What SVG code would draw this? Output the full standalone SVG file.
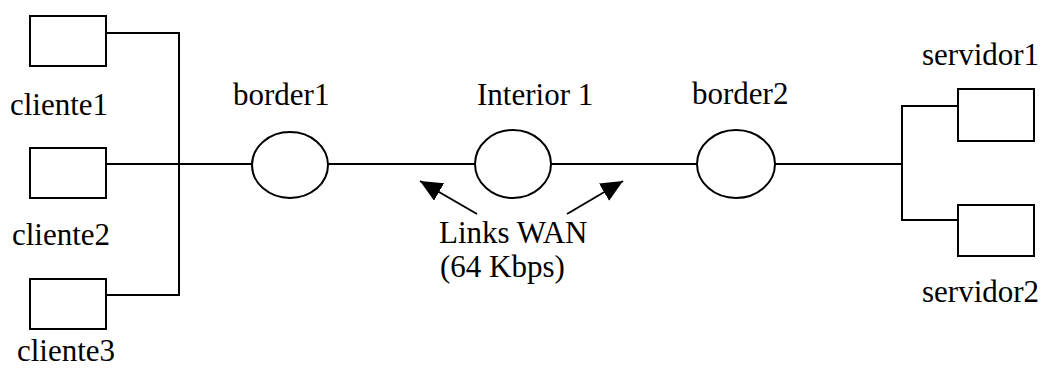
<svg xmlns="http://www.w3.org/2000/svg" width="1042" height="369" viewBox="0 0 1042 369">
<style>
.box{fill:#fff;stroke:#000;stroke-width:2}
.rt{fill:#fff;stroke:#000;stroke-width:2}
.ln{fill:none;stroke:#000;stroke-width:2}
.lbl{font-family:"Liberation Serif","Times New Roman",serif;font-size:31px;fill:#000}
</style>
<defs>
<marker id="ah" markerUnits="userSpaceOnUse" markerWidth="24" markerHeight="20" refX="22" refY="10" orient="auto">
<path d="M0,0 L22,10 L0,20 Z" fill="#000"/>
</marker>
</defs>
<rect width="1042" height="369" fill="#fff"/>
<g id="connectors">
<polyline class="ln" points="106,33 179,33 179,295 106,295"/>
<line class="ln" x1="106" y1="164" x2="252" y2="164"/>
<line class="ln" x1="328" y1="164" x2="475" y2="164"/>
<line class="ln" x1="551" y1="164" x2="697" y2="164"/>
<line class="ln" x1="775" y1="164" x2="902" y2="164"/>
<polyline class="ln" points="958,106 902,106 902,220 958,220"/>
<line class="ln" x1="477" y1="214" x2="420" y2="181" marker-end="url(#ah)"/>
<line class="ln" x1="567" y1="214" x2="623" y2="181" marker-end="url(#ah)"/>
</g>
<g id="cliente1"><rect class="box" x="30" y="16" width="76" height="50"/><text class="lbl" x="10" y="115">cliente1</text></g>
<g id="cliente2"><rect class="box" x="30" y="148" width="76" height="50"/><text class="lbl" x="12" y="245">cliente2</text></g>
<g id="cliente3"><rect class="box" x="30" y="279" width="76" height="50"/><text class="lbl" x="17" y="361">cliente3</text></g>
<g id="border1"><ellipse class="rt" cx="290" cy="165" rx="38" ry="33"/><text class="lbl" x="233" y="105">border1</text></g>
<g id="interior1"><ellipse class="rt" cx="513" cy="164" rx="38" ry="34"/><text class="lbl" x="477" y="105">Interior 1</text></g>
<g id="border2"><ellipse class="rt" cx="736" cy="164" rx="39" ry="34"/><text class="lbl" x="692" y="104">border2</text></g>
<g id="servidor1"><rect class="box" x="958" y="89" width="76" height="52"/><text class="lbl" x="922" y="65">servidor1</text></g>
<g id="servidor2"><rect class="box" x="958" y="205" width="76" height="51"/><text class="lbl" x="922" y="302">servidor2</text></g>
<g id="wan-label"><text class="lbl" x="439" y="243">Links WAN</text><text class="lbl" x="440" y="277">(64 Kbps)</text></g>
</svg>
